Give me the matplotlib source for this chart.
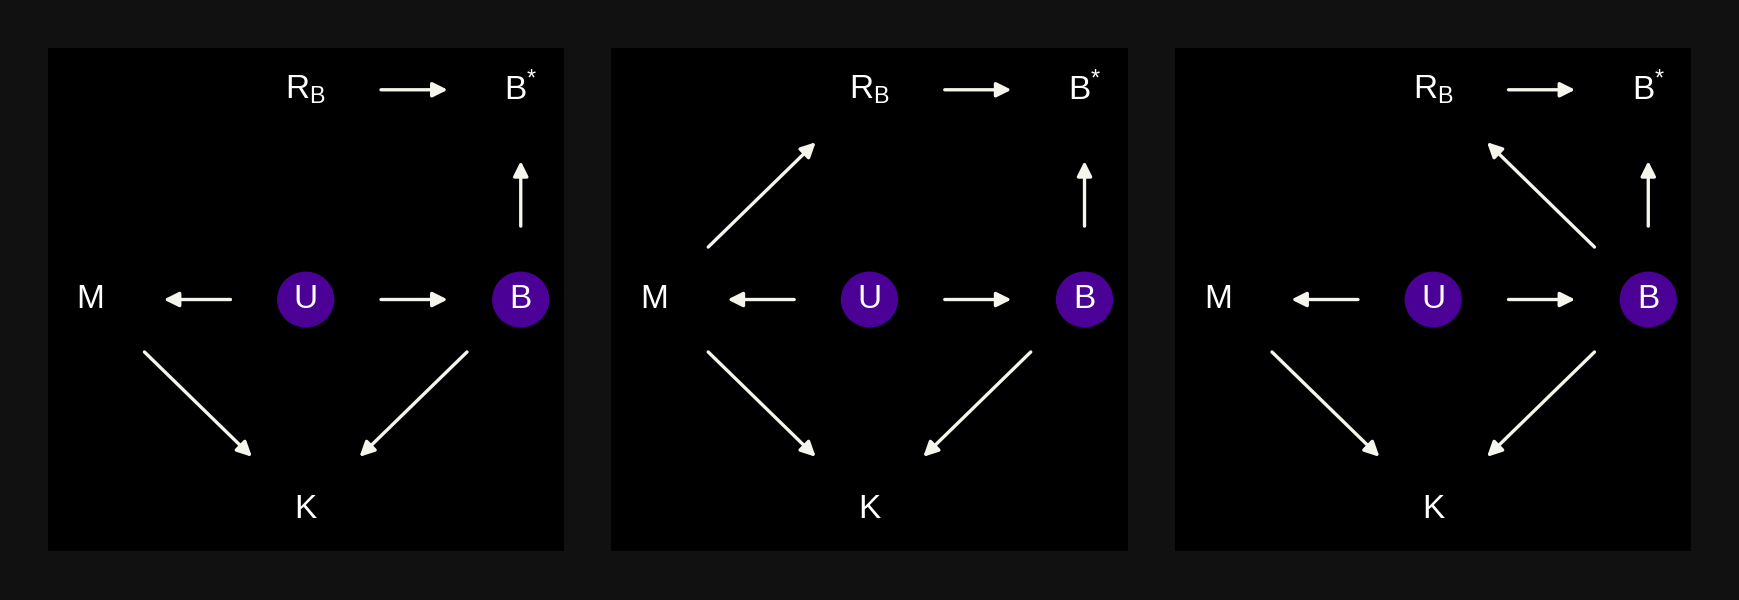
import matplotlib
matplotlib.use("Agg")
from matplotlib import pyplot as plt
from matplotlib.patches import FancyArrowPatch, Circle

plt.rcParams['font.family'] = ['Liberation Sans', 'DejaVu Sans']
plt.rcParams['mathtext.fontset'] = 'custom'
plt.rcParams['mathtext.rm'] = 'Liberation Sans'

# nodes: (column, row), row 0 is the top
nodes = {
    'RB': (1, 0), 'Bs': (2, 0),
    'M': (0, 1), 'U': (1, 1), 'B': (2, 1),
    'K': (1, 2),
}
labels = {'RB': r'R$_\mathregular{B}$', 'Bs': r'B$^{*}$', 'M': 'M', 'U': 'U', 'B': 'B', 'K': 'K'}
filled = ['U', 'B']

base_edges = [('U', 'M'), ('U', 'B'), ('B', 'Bs'), ('RB', 'Bs'), ('M', 'K'), ('B', 'K')]
panel_edges = [base_edges, base_edges + [('M', 'RB')], base_edges + [('B', 'RB')]]

fg = '#f5f5ec'
purple = '#4b0096'

fig = plt.figure(figsize=(17.4, 6), dpi=100)
fig.patch.set_facecolor('#111111')

lefts = [0.0274, 0.3514, 0.6754]
for left, edges in zip(lefts, panel_edges):
    ax = fig.add_axes([left, 0.0813, 0.2966, 0.839])
    ax.set_facecolor('black')
    ax.set_xlim(-0.2, 2.2)
    ax.set_ylim(2.2, -0.2)
    ax.set_xticks([])
    ax.set_yticks([])
    for s in ax.spines.values():
        s.set_visible(False)

    for a, b in edges:
        x0, y0 = nodes[a]
        x1, y1 = nodes[b]
        diag = x0 != x1 and y0 != y1
        t0, t1 = (0.25, 0.75) if diag else (0.35, 0.66)
        p0 = (x0 + (x1 - x0) * t0, y0 + (y1 - y0) * t0)
        p1 = (x0 + (x1 - x0) * t1, y0 + (y1 - y0) * t1)
        ax.add_patch(FancyArrowPatch(p0, p1, arrowstyle='-|>', mutation_scale=22,
                                     color=fg, lw=2.4, shrinkA=0, shrinkB=0))

    for k, (x, y) in nodes.items():
        if k in filled:
            ax.add_patch(Circle((x, y), 0.13, color=purple, zorder=2))
        ax.text(x, y, labels[k], color='white', fontsize=24, ha='center', va='center', zorder=3)

fig.savefig('out.png', facecolor=fig.get_facecolor())
